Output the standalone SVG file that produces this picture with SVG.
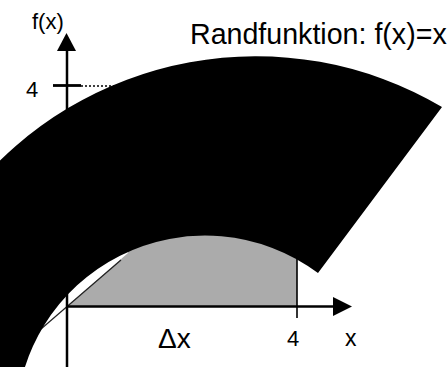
<svg xmlns="http://www.w3.org/2000/svg" width="448" height="367" viewBox="0 0 448 367">
<style>
text{font-family:"Liberation Sans",Arial,sans-serif;fill:#000}
.ax{stroke:#000;stroke-width:2.5;fill:none}
.thin{stroke:#000;stroke-width:1.6;fill:none}
</style>
<rect width="448" height="367" fill="#fff"/>
<g id="area">
<path d="M67 306 L128 253 L128 200 L297 200 L297 306 Z" fill="#ababab"/>
<line x1="41" y1="329" x2="121" y2="260" stroke="#222" stroke-width="1.2"/>
<line x1="297" y1="258" x2="297" y2="318" class="thin"/>
</g>
<g id="axes">
<line x1="67" y1="48" x2="67" y2="367" class="ax"/>
<polygon points="66.5,33 57,51 76,51" fill="#000"/>
<line x1="67" y1="306.5" x2="336" y2="306.5" class="ax"/>
<polygon points="352,306.5 333,297 333,316" fill="#000"/>
<line x1="53" y1="85.5" x2="81" y2="85.5" stroke="#000" stroke-width="2.8"/>
<line x1="81" y1="86" x2="114" y2="86" stroke="#000" stroke-width="1.4" stroke-dasharray="2,2"/>
</g>
<g id="band">
<path d="M-30 193.6 A366 366 0 0 1 442 107 L318 273 A189 189 0 0 0 16 425 L-60 425 L-60 193.6 Z" fill="#000"/>
</g>
<g id="labels">
<text x="32" y="29" font-size="22">f(x)</text>
<text x="26" y="97" font-size="22">4</text>
<text x="190" y="44" font-size="28.6">Randfunktion: f(x)=x</text>
<text x="158" y="348" font-size="28">Δx</text>
<text x="287" y="346" font-size="22">4</text>
<text x="345" y="346" font-size="23">x</text>
</g>
</svg>
